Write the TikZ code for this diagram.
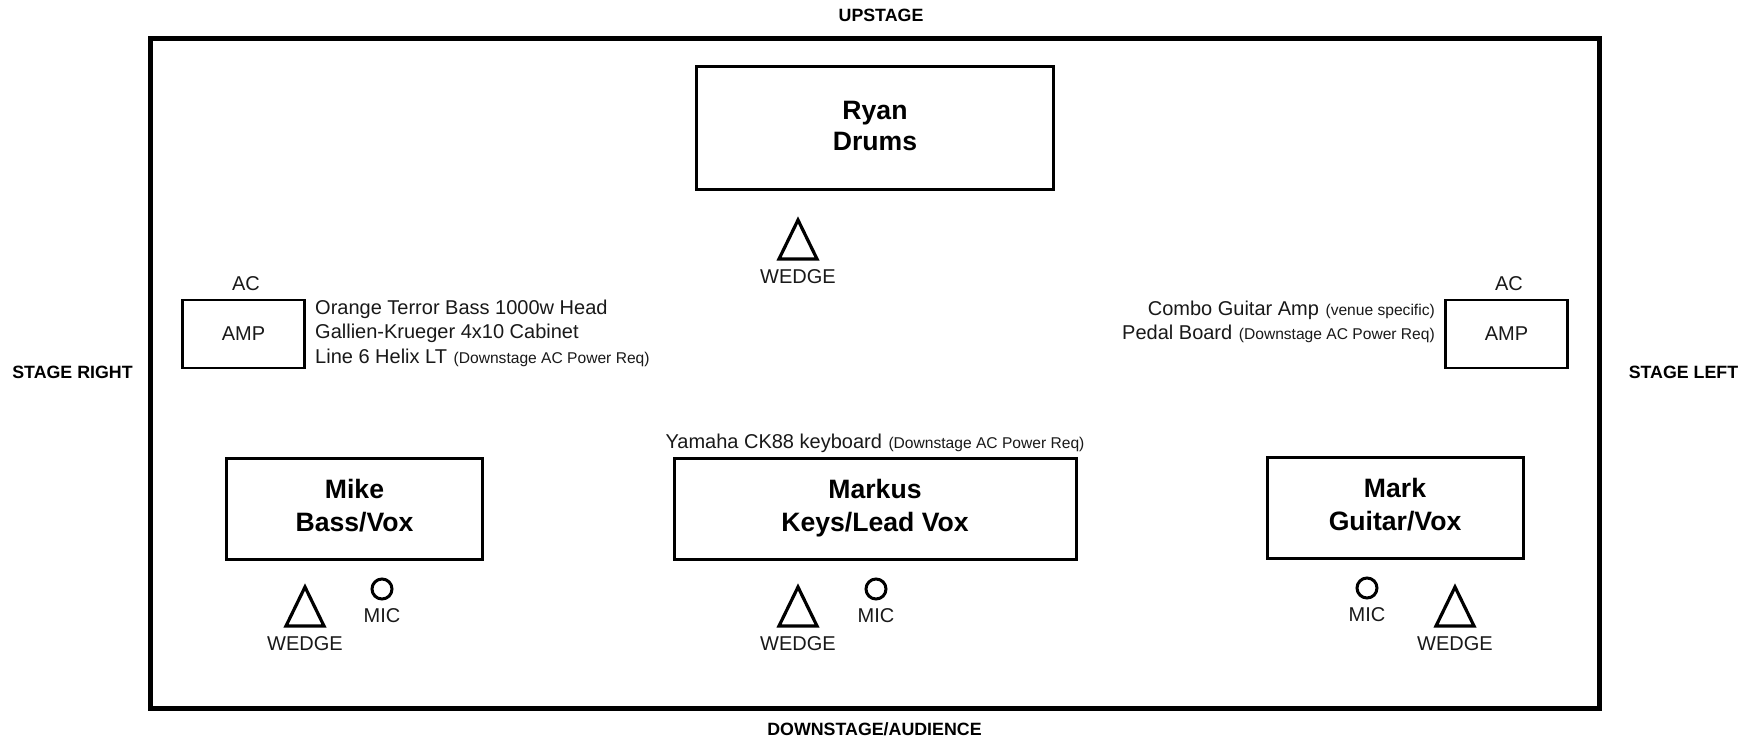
\documentclass[tikz,border=0pt]{standalone}
\usepackage{fontspec}
\setmainfont{Liberation Sans}
\newcommand{\fs}[1]{\fontsize{#1}{#1}\selectfont}
\newcommand{\topline}{\rule{0pt}{21.6pt}}
\tikzset{
  x=1pt,y=-1pt,
  pbox/.style={draw=black,line width=3pt,inner sep=0pt,align=center,font=\fs{26.6}\bfseries,text=black},
  ampbox/.style={draw=black,line width=2.8pt,inner sep=0pt,font=\fs{20},text=black!90},
  lab/.style={inner sep=0pt,font=\fs{20},text=black!90},
  det/.style={inner sep=0pt,font=\fs{20},text=black!90,align=left},
  side/.style={inner sep=0pt,font=\fs{17.8}\bfseries,text=black},
  wedgetri/.style={draw=black,line width=3.2pt,line join=miter},
  micc/.style={draw=black,line width=3pt,circle,minimum size=20pt,inner sep=0pt},
}
\newcommand{\sm}[1]{\hspace{1pt}{\fs{15.6}#1}}
\newcommand{\wedgeat}[3]{%
  \draw[wedgetri] (#2-19,#3+20) -- (#2,#3-19) -- (#2+19,#3+20) -- cycle;
  \node[lab] (#1) at (#2,#3+38) {WEDGE};}
\newcommand{\micat}[3]{%
  \node[micc] (#1c) at (#2,#3) {};
  \node[lab] (#1) at (#2,#3+26.5) {MIC};}
\begin{document}
\begin{tikzpicture}
\useasboundingbox (0,0) rectangle (1756,739);
\fill[white] (0,0) rectangle (1756,739);
\node[draw=black,line width=4.6pt,minimum width=1449pt,minimum height=670pt,inner sep=0pt] (stage) at (875,373.5) {};
\node[side] (up) at (881,15.5) {UPSTAGE};
\node[side] (down) at (874.5,729) {DOWNSTAGE/AUDIENCE};
\node[side] (sr) at (72.5,372) {STAGE RIGHT};
\node[side] (sl) at (1683.5,372) {STAGE LEFT};
\node[pbox,minimum width=357pt,minimum height=123pt] (ryan) at (875,128) {\strut\topline Ryan\\[4.5pt]\strut Drums};
\node[pbox,minimum width=256pt,minimum height=101pt] (mike) at (354.5,508.5) {\strut\topline Mike\\[4.5pt]\strut Bass/Vox};
\node[pbox,minimum width=402pt,minimum height=101pt] (markus) at (875,508.5) {\strut\topline Markus\\[4.5pt]\strut Keys/Lead Vox};
\node[pbox,minimum width=256pt,minimum height=101pt] (mark) at (1395,507.5) {\strut\topline Mark\\[4.5pt]\strut Guitar/Vox};
\node[ampbox,minimum width=122pt,minimum height=68pt] (ampl) at (243.5,334) {AMP};
\node[ampbox,minimum width=122pt,minimum height=68pt] (ampr) at (1506.5,334) {AMP};
\node[lab] (acl) at (246,283.5) {AC};
\node[lab] (acr) at (1509,283.5) {AC};
\node[det,anchor=west] (d1) at (315,309.5) {Orange Terror Bass 1000w Head};
\node[det,anchor=west] (d2) at (315,333.5) {Gallien-Krueger 4x10 Cabinet};
\node[det,anchor=west] (d3) at (315,358) {Line 6 Helix LT \sm{(Downstage AC Power Req)}};
\node[det,anchor=east] (d4) at (1435,310) {Combo Guitar Amp \sm{(venue specific)}};
\node[det,anchor=east] (d5) at (1435,334) {Pedal Board \sm{(Downstage AC Power Req)}};
\node[det,anchor=center] (d6) at (875,443) {Yamaha CK88 keyboard \sm{(Downstage AC Power Req)}};
\wedgeat{w1}{798}{239}
\wedgeat{w2}{305}{606}
\wedgeat{w3}{798}{606}
\wedgeat{w4}{1455}{606}
\micat{m1}{382}{589}
\micat{m2}{876}{589}
\micat{m3}{1367}{588}
\end{tikzpicture}
\end{document}
